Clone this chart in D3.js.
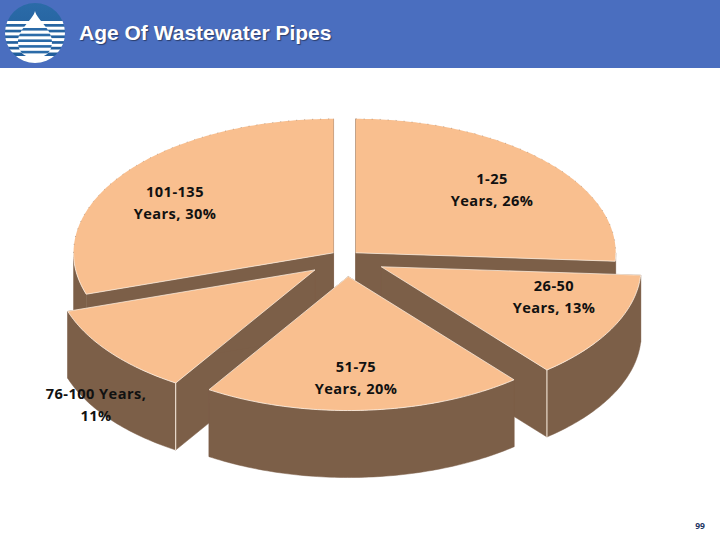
<!DOCTYPE html>
<html><head><meta charset="utf-8">
<script src="https://cdn.jsdelivr.net/npm/d3@7/dist/d3.min.js"></script>
<style>html,body{margin:0;padding:0;background:#fff}svg{display:block}</style>
</head><body><svg id="c" width="720" height="540"></svg>
<script>
const titleText = "Age Of Wastewater Pipes";
const categories = ["1-25 Years","26-50 Years","51-75 Years","76-100 Years","101-135 Years"];
const values = [26,13,20,11,30];
const explosion = [13.3,39.5,37,39.2,15.4];
const labelLines = [["1-25","Years, 26%"],["26-50","Years, 13%"],["51-75","Years, 20%"],["76-100 Years,","11%"],["101-135","Years, 30%"]];
const labelCenters = [[492,190],[554,297],[356,378],[96,405],[175,203]];
const pageNumber = "99";
const topCol = "#F9BF8F", sideCol = "#7C5F48";
const cx = 346, cy = 257.5, rx = 260, ry = 134, depth = 67;

const svg = d3.select("#c");
svg.append("rect").attr("width",720).attr("height",68).attr("fill","#4A6EBF");

// logo
const defs = svg.append("defs");
const g1 = defs.append("linearGradient").attr("id","lg").attr("x1",0).attr("x2",0).attr("y1",0).attr("y2",1);
g1.append("stop").attr("offset",0).attr("stop-color","#2B6BA8");
g1.append("stop").attr("offset",1).attr("stop-color","#1F5C99");
defs.append("clipPath").attr("id","lc").append("circle").attr("cx",35).attr("cy",33).attr("r",30);
const dropPath = "M35 11 C37 20 52 29 52 42 C52 53 44 58 35 58 C26 58 18 53 18 42 C18 29 33 20 35 11Z";
defs.append("clipPath").attr("id","ld").append("path").attr("d",dropPath);
const logo = svg.append("g");
const lc = logo.append("g").attr("clip-path","url(#lc)");
lc.append("rect").attr("x",5).attr("y",3).attr("width",60).attr("height",60).attr("fill","url(#lg)");
const stripes = d3.range(21,52,5.7);
lc.selectAll("rect.s").data(stripes).join("rect").attr("class","s")
  .attr("x",5).attr("width",60).attr("y",d=>d).attr("height",3).attr("fill","#fff");
lc.append("rect").attr("x",5).attr("y",56).attr("width",60).attr("height",8).attr("fill","#fff");
const ld = logo.append("g").attr("clip-path","url(#ld)");
ld.append("rect").attr("x",15).attr("y",8).attr("width",40).attr("height",52).attr("fill","#fff");
ld.selectAll("rect.t").data(d3.range(28,56,5.7)).join("rect").attr("class","t")
  .attr("x",15).attr("width",40).attr("y",d=>d).attr("height",2.6).attr("fill","#2B6BA8");

svg.append("text").attr("x",79).attr("y",40).attr("fill","#fff")
  .attr("font-family","Liberation Sans").attr("font-weight",700).attr("font-size",21)
  .style("text-shadow","1px 1px 1px rgba(30,40,70,.7)").text(titleText);

// pie
const pie = d3.pie().sort(null).startAngle(0).endAngle(2*Math.PI)(values);
const X = d3.scaleLinear().domain([-1,1]).range([-rx,rx]);
const Y = d3.scaleLinear().domain([-1,1]).range([-ry,ry]);
const pt = (a,ox,oy,z=0)=>[ox+X(Math.sin(a)),oy+Y(-Math.cos(a))+z];
const slices = pie.map((d,i)=>{
  const mid=(d.startAngle+d.endAngle)/2;
  return {...d,i,ox:cx+explosion[i]*Math.sin(mid),oy:cy-explosion[i]*(ry/rx)*Math.cos(mid)};
});
function arcPts(s,a0,a1,z=0){
  const n=Math.max(2,Math.ceil((a1-a0)*60));
  return d3.range(n+1).map(k=>pt(a0+(a1-a0)*k/n,s.ox,s.oy,z));
}
const line = d3.line();
const order=[0,4,1,3,2];
order.forEach(i=>{
  const s=slices[i], a0=s.startAngle, a1=s.endAngle;
  const g=svg.append("g");
  const A=[s.ox,s.oy], B=[s.ox,s.oy+depth];
  // radial walls
  [a0,a1].forEach(a=>{
    const P=pt(a,s.ox,s.oy),Q=pt(a,s.ox,s.oy,depth);
    g.append("path").attr("d",line([A,P,Q,B])+"Z").attr("fill",sideCol).attr("stroke",sideCol).attr("stroke-width",.5);
  });
  // outer wall (front half only)
  const f0=Math.max(a0,Math.PI/2), f1=Math.min(a1,3*Math.PI/2);
  const w0=a0<Math.PI/2&&a1>Math.PI/2?Math.PI/2:a0, w1=a1>3*Math.PI/2&&a0<3*Math.PI/2?3*Math.PI/2:a1;
  if(f1>f0){
    const top=arcPts(s,w0,w1), bot=arcPts(s,w0,w1,depth).reverse();
    g.append("path").attr("d",line(top.concat(bot))+"Z").attr("fill",sideCol).attr("stroke",sideCol).attr("stroke-width",.5);
  }
  // top
  g.append("path").attr("d",line([A,...arcPts(s,a0,a1)])+"Z").attr("fill",topCol);
  // speckled back rim
  const backA0=a0, backA1=Math.min(a1,Math.PI/2), back2A0=Math.max(a0,3*Math.PI/2);
  if(backA1>backA0) g.append("path").attr("d",line(arcPts(s,backA0,backA1))).attr("fill","none").attr("stroke","#5a4636").attr("stroke-opacity",.5).attr("stroke-width",.7).attr("stroke-dasharray","1 7");
  if(a1>back2A0) g.append("path").attr("d",line(arcPts(s,back2A0,a1))).attr("fill","none").attr("stroke","#5a4636").attr("stroke-opacity",.5).attr("stroke-width",.7).attr("stroke-dasharray","1 7");
  // light edge lines
  g.append("path").attr("d",line(arcPts(s,Math.max(a0,Math.PI/2),Math.min(a1,3*Math.PI/2)))).attr("fill","none").attr("stroke","#FFF3E6").attr("stroke-width",f1>f0?.8:0);
  [a0,a1].forEach(a=>{
    const P=pt(a,s.ox,s.oy);
    if(a>0&&a<2*Math.PI) g.append("path").attr("d",line([A,P])).attr("stroke","#FFF3E6").attr("stroke-width",.7).attr("fill","none");
    if(a>Math.PI/2+.2&&a<3*Math.PI/2-.2&&((i===1&&a===a1)||(i===3&&a===a0))){
      g.append("path").attr("d",line([P,pt(a,s.ox,s.oy,depth)])).attr("stroke","#FFF3E6").attr("stroke-width",1).attr("fill","none");
    }
  });
});

// labels
labelLines.forEach((ls,i)=>{
  const t=svg.append("text").attr("text-anchor","middle").attr("fill","#111")
    .attr("font-family","Open Sans").attr("font-weight",700).attr("font-size",14.6).attr("letter-spacing",.45);
  ls.forEach((l,k)=>t.append("tspan").attr("x",labelCenters[i][0]).attr("y",labelCenters[i][1]+(k-.5)*21.5+5).text(l));
});
svg.append("text").attr("x",700).attr("y",529).attr("text-anchor","middle").attr("fill","#1F3864")
  .attr("font-family","Open Sans").attr("font-weight",700).attr("font-size",8.5).text(pageNumber);
</script></body></html>
